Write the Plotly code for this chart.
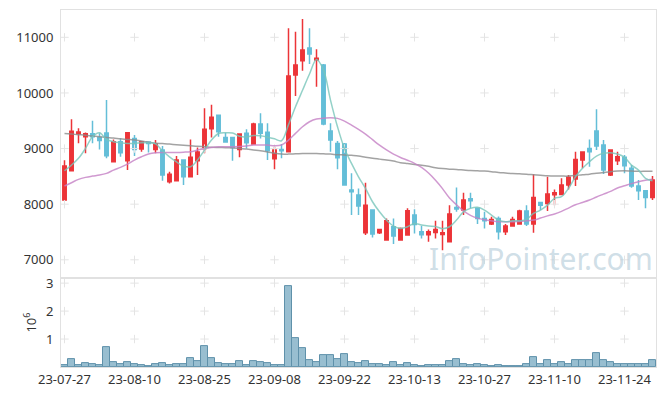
import pandas as pd
import plotly.graph_objects as go
from plotly.subplots import make_subplots

# ---- data ----
holidays = ["2023-08-15", "2023-09-28", "2023-09-29", "2023-10-02", "2023-10-03", "2023-10-09"]
dates = list(pd.bdate_range("2023-07-27", "2023-11-30", freq="C", holidays=holidays).strftime("%y-%m-%d"))

opens = [8074, 8600, 9266, 9212, 9266, 9201, 9279, 8763, 9122, 8780,
         9183, 8991, 9120, 8985, 8973, 8403, 8421, 8793, 8493, 8780,
         9003, 9356, 9597, 9201, 9201, 8985, 9273, 9081, 9441, 9291,
         8817, 8985, 8943, 10322, 10580, 10808, 10592, 10502, 9315, 9093,
         9081, 8254, 8164, 7485, 7894, 7485, 7354, 7594, 7354, 7444,
         7804, 7503, 7450, 7492, 7456, 7324, 7942, 7894, 8098, 7925,
         7744, 7643, 7744, 7503, 7606, 7643, 7876, 7643, 8032, 8014,
         8169, 8176, 8344, 8451, 8793, 9003, 9315, 9063, 8523, 8780,
         8842, 8644, 8326, 8242, 8122]
highs = [8790, 9525, 9365, 9290, 9500, 9273, 9872, 9165, 9183, 9285,
         9243, 9125, 9125, 9153, 9045, 8583, 8865, 8793, 9165, 9021,
         9723, 9788, 9597, 9284, 9201, 9261, 9345, 9464, 9633, 9453,
         9033, 9081, 11162, 11101, 11330, 11162, 10784, 10520, 9453, 9135,
         9100, 8554, 8284, 8386, 7894, 7547, 7744, 7744, 7583, 7925,
         7907, 7612, 7547, 7702, 7702, 7982, 8302, 8205, 8205, 7925,
         7863, 7774, 7780, 7643, 7774, 7900, 7982, 8536, 8040, 8493,
         8266, 8464, 8523, 8943, 8937, 9165, 9705, 9153, 8973, 8943,
         8883, 8703, 8434, 8242, 8505]
lows = [8070, 8600, 9095, 8915, 9095, 8985, 8824, 8760, 8853, 8615,
        8865, 8943, 8930, 8914, 8421, 8374, 8421, 8343, 8493, 8523,
        8914, 9201, 9212, 9117, 8780, 8842, 9003, 9081, 9183, 8793,
        8626, 8824, 8943, 9944, 10400, 10520, 10112, 9420, 8943, 8626,
        8330, 7804, 7804, 7444, 7403, 7462, 7354, 7283, 7354, 7444,
        7474, 7385, 7324, 7385, 7174, 7324, 7863, 7804, 7925, 7643,
        7565, 7624, 7367, 7444, 7600, 7630, 7606, 7485, 7894, 7876,
        7982, 8176, 8266, 8326, 8644, 8673, 8973, 8541, 8505, 8703,
        8554, 8296, 8074, 7925, 8074]
closes = [8685, 9313, 9297, 9266, 9212, 9147, 8870, 9122, 8925, 9284,
          8985, 9122, 9090, 9081, 8523, 8536, 8793, 8493, 8842, 8937,
          9345, 9561, 9302, 9117, 9021, 9261, 9104, 9441, 9273, 8961,
          8973, 8961, 10304, 10502, 10772, 10700, 10622, 9441, 9153, 8835,
          8344, 8224, 7966, 7982, 7462, 7547, 7702, 7426, 7565, 7882,
          7636, 7450, 7503, 7547, 7485, 7822, 7912, 8074, 8062, 7744,
          7702, 7726, 7503, 7606, 7726, 7876, 7643, 8122, 7982, 8181,
          8205, 8344, 8482, 8805, 8937, 8943, 9045, 8613, 8973, 8853,
          8691, 8326, 8242, 8122, 8434]
ma_short = [8601, 8703, 8824, 9003, 9212, 9284, 9165, 9122, 9104, 9093,
            9093, 9104, 9104, 9085, 8960, 8850, 8760, 8685, 8673, 8793,
            8973, 9153, 9270, 9284, 9280, 9220, 9210, 9235, 9230, 9205,
            9175, 9141, 9430, 9752, 10047, 10340, 10600, 10412, 9872, 9392,
            9000, 8733, 8493, 8284, 8044, 7863, 7714, 7606, 7565, 7594,
            7654, 7624, 7606, 7600, 7560, 7594, 7714, 7863, 7925, 7943,
            7894, 7804, 7714, 7684, 7702, 7702, 7726, 7834, 7894, 7982,
            8104, 8134, 8284, 8493, 8644, 8763, 8865, 8914, 8925, 8901,
            8842, 8703, 8613, 8464, 8420]
ma_mid = [8326, 8386, 8446, 8482, 8505, 8523, 8554, 8613, 8662, 8721,
          8793, 8853, 8901, 8925, 8931, 8931, 8931, 8935, 8943, 8973,
          9003, 9021, 9033, 9033, 9033, 9035, 9045, 9063, 9063, 9063,
          9050, 9063, 9153, 9273, 9392, 9482, 9531, 9543, 9554, 9543,
          9494, 9422, 9345, 9260, 9160, 9060, 8975, 8900, 8840, 8790,
          8735, 8660, 8560, 8430, 8280, 8110, 7990, 7880, 7800, 7750,
          7720, 7700, 7685, 7684, 7684, 7688, 7700, 7714, 7750, 7790,
          7822, 7870, 7930, 7990, 8030, 8074, 8130, 8180, 8230, 8290,
          8330, 8370, 8405, 8430, 8450]
ma_long = [9270, 9260, 9250, 9240, 9225, 9212, 9200, 9190, 9175, 9165,
           9153, 9135, 9115, 9095, 9090, 9080, 9070, 9060, 9050, 9040,
           9033, 9025, 9020, 9015, 9010, 9003, 8990, 8975, 8960, 8940,
           8915, 8900, 8900, 8905, 8910, 8912, 8910, 8905, 8900, 8890,
           8885, 8878, 8868, 8845, 8825, 8810, 8795, 8775, 8745, 8730,
           8715, 8700, 8680, 8655, 8640, 8630, 8625, 8615, 8605, 8600,
           8595, 8585, 8570, 8560, 8550, 8545, 8540, 8530, 8520, 8510,
           8505, 8505, 8505, 8515, 8530, 8540, 8555, 8570, 8585, 8595,
           8600, 8595, 8590, 8590, 8590]
volume_m = [0.08, 0.28, 0.07, 0.14, 0.10, 0.07, 0.71, 0.19, 0.11, 0.18,
            0.10, 0.07, 0.03, 0.10, 0.14, 0.07, 0.10, 0.10, 0.32, 0.22,
            0.75, 0.32, 0.14, 0.10, 0.10, 0.21, 0.07, 0.21, 0.18, 0.14,
            0.07, 0.07, 2.90, 1.03, 0.68, 0.26, 0.18, 0.43, 0.43, 0.28,
            0.46, 0.18, 0.14, 0.21, 0.10, 0.10, 0.07, 0.18, 0.07, 0.14,
            0.07, 0.03, 0.07, 0.07, 0.07, 0.21, 0.28, 0.10, 0.07, 0.10,
            0.07, 0.03, 0.07, 0.03, 0.03, 0.03, 0.10, 0.36, 0.10, 0.25,
            0.10, 0.18, 0.10, 0.25, 0.25, 0.25, 0.50, 0.25, 0.18, 0.10,
            0.10, 0.10, 0.10, 0.10, 0.25]
price_ticks = [7000, 8000, 9000, 10000, 11000]
volume_ticks = [1, 2, 3]
tick_dates = dates[::10]

RED = "rgb(236,52,56)"
BLUE = "rgb(100,190,216)"
GRID = "rgb(228,228,228)"
FRAME = "rgb(225,225,225)"
FONT = "Noto Sans"

fig = make_subplots(rows=2, cols=1, shared_xaxes=True, vertical_spacing=0,
                    row_heights=[0.751, 0.249])

fig.add_trace(go.Candlestick(x=dates, open=opens, high=highs, low=lows, close=closes,
                             showlegend=False, whiskerwidth=0,
                             increasing=dict(line=dict(color=RED, width=1.5), fillcolor=RED),
                             decreasing=dict(line=dict(color=BLUE, width=1.5), fillcolor=BLUE)),
              row=1, col=1)

fig.add_trace(go.Bar(x=dates, y=volume_m, showlegend=False,
                     marker=dict(color="rgb(152,190,208)",
                                 line=dict(color="rgb(95,145,170)", width=1))),
              row=2, col=1)

# grid crosses at tick intersections
gx = [d for d in tick_dates for _ in price_ticks]
gy = [p for _ in tick_dates for p in price_ticks]
fig.add_trace(go.Scatter(x=gx, y=gy, mode="markers", hoverinfo="skip", showlegend=False,
                         marker=dict(symbol="cross-thin", size=6,
                                     line=dict(color=GRID, width=1))), row=1, col=1)
vx = [d for d in tick_dates for _ in volume_ticks]
vy = [v for _ in tick_dates for v in volume_ticks]
fig.add_trace(go.Scatter(x=vx, y=vy, mode="markers", hoverinfo="skip", showlegend=False,
                         marker=dict(symbol="cross-thin", size=6,
                                     line=dict(color=GRID, width=1))), row=2, col=1)

fig.add_trace(go.Scatter(x=dates, y=ma_long, mode="lines", showlegend=False,
                         line=dict(color="rgba(140,140,140,0.8)", width=1.5, shape="spline")),
              row=1, col=1)
fig.add_trace(go.Scatter(x=dates, y=ma_mid, mode="lines", showlegend=False,
                         line=dict(color="rgba(196,128,196,0.8)", width=1.5, shape="spline")),
              row=1, col=1)
fig.add_trace(go.Scatter(x=dates, y=ma_short, mode="lines", showlegend=False,
                         line=dict(color="rgba(120,198,186,0.8)", width=1.5, shape="spline")),
              row=1, col=1)

axis_common = dict(showline=True, mirror=True, linecolor=FRAME, linewidth=1,
                   showgrid=False, zeroline=False, ticks="",
                   tickfont=dict(family=FONT, size=13, color="#333"))

fig.update_xaxes(type="category", categoryorder="array", categoryarray=dates,
                 range=[-0.5, 84.5], rangeslider_visible=False,
                 tickmode="array", tickvals=tick_dates, ticktext=tick_dates,
                 tickangle=0, **axis_common)
fig.update_xaxes(showticklabels=False, row=1, col=1)
fig.update_yaxes(range=[6671, 11491], tickmode="array", tickvals=price_ticks,
                 ticktext=[str(p) for p in price_ticks],
                 ticklabelstandoff=4, row=1, col=1, **axis_common)
fig.update_yaxes(range=[0, 3.18], tickmode="array", tickvals=volume_ticks,
                 ticktext=[str(v) for v in volume_ticks],
                 ticklabelstandoff=4,
                 title=dict(text="10<sup>6</sup>", font=dict(family=FONT, size=13, color="#333"),
                            standoff=6),
                 row=2, col=1, **axis_common)

fig.add_annotation(text="InfoPointer.com", xref="paper", yref="paper", x=0.807, y=0.305,
                   xanchor="center", yanchor="middle", showarrow=False,
                   font=dict(family=FONT, size=30, color="rgba(180,204,218,0.65)"))

fig.update_layout(width=665, height=396, margin=dict(l=61, r=9, t=10, b=29, autoexpand=False),
                  paper_bgcolor="white", plot_bgcolor="white", bargap=0,
                  font=dict(family=FONT, size=13, color="#333"))

fig.write_html("out.html", config={"displayModeBar": False},
               post_script="document.body.style.margin='0px';")
